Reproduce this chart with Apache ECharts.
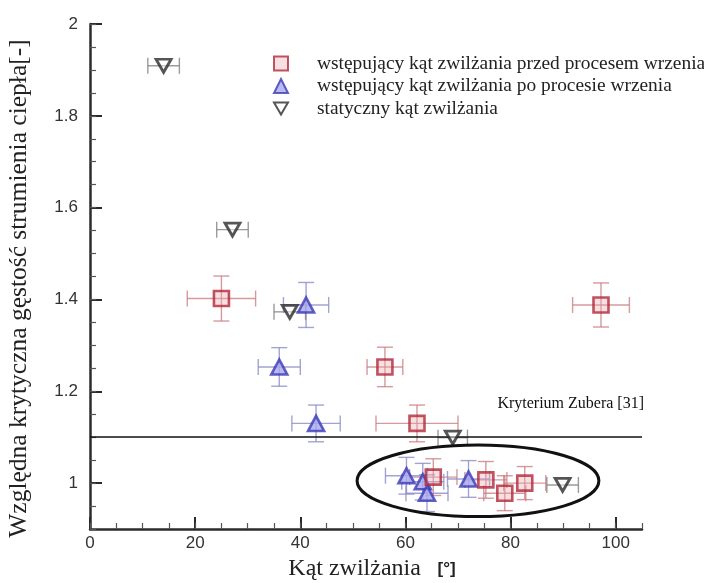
<!DOCTYPE html>
<html>
<head>
<meta charset="utf-8">
<script src="https://cdn.jsdelivr.net/npm/echarts@6/dist/echarts.min.js"></script>
<style>
  html, body { margin: 0; padding: 0; background: #fff; }
  #chart { width: 704px; height: 583px; }
</style>
</head>
<body>
<div id="chart"></div>
<script>
// Contact angle [deg] vs. relative critical heat flux [-], with x/y uncertainties
// each point: [angle, chf, angleErr, chfErr]
var advancingBefore = [
  [25.0, 1.402, 6.5, 0.049],
  [56.1, 1.253, 3.4, 0.043],
  [62.2, 1.130, 7.8, 0.040],
  [97.2, 1.388, 5.4, 0.048],
  [65.3, 1.013, 4.5, 0.040],
  [75.3, 1.007, 4.0, 0.040],
  [78.9, 0.978, 4.0, 0.038],
  [82.7, 1.000, 4.0, 0.036]
];
var advancingAfter = [
  [41.1, 1.388, 4.3, 0.049],
  [36.0, 1.253, 4.0, 0.042],
  [43.0, 1.130, 4.6, 0.040],
  [60.2, 1.016, 4.0, 0.040],
  [63.3, 1.003, 4.0, 0.040],
  [64.1, 0.978, 4.0, 0.040],
  [72.0, 1.009, 4.0, 0.040]
];
var staticAngle = [
  [14.0, 1.909, 3.0, 0],
  [27.1, 1.552, 3.0, 0],
  [38.0, 1.373, 3.0, 0],
  [69.0, 1.099, 2.8, 0],
  [89.9, 0.996, 3.0, 0]
];
var seriesNames = [
  'wstępujący kąt zwilżania przed procesem wrzenia',
  'wstępujący kąt zwilżania po procesie wrzenia',
  'statyczny kąt zwilżania'
];
var xTicks = [0, 20, 40, 60, 80, 100];
var yTicks = [1, 1.2, 1.4, 1.6, 1.8, 2];
var zuberLevel = 1.1;
var zuberLabel = 'Kryterium Zubera [31]';
var xTitle = 'Kąt zwilżania';
var xUnit = '[°]';
var yTitle = 'Względna krytyczna gęstość strumienia ciepła[-]';
// highlighted cluster near chf = 1: [centerAngle, centerChf, halfWidthAngle, halfHeightChf]
var clusterEllipse = [73.8, 1.005, 23.0, 0.078];

var invTriangle = 'path://M0,0 L10,0 L5,8.7 Z';
var serif = '"Liberation Serif", "DejaVu Serif", serif';
var sans = '"Liberation Sans", Arial, sans-serif';

function errorBarSeries(data, color) {
  return {
    type: 'custom',
    data: data,
    encode: { x: 0, y: 1 },
    z: 2,
    silent: true,
    renderItem: function (params, api) {
      var x = api.value(0), y = api.value(1), ex = api.value(2), ey = api.value(3);
      var c = api.coord([x, y]);
      var l = api.coord([x - ex, y]), r = api.coord([x + ex, y]);
      var t = api.coord([x, y + ey]), b = api.coord([x, y - ey]);
      var cap = 8;
      var style = { stroke: color, lineWidth: 1.4, fill: null };
      var children = [
        { type: 'line', shape: { x1: l[0], y1: c[1], x2: r[0], y2: c[1] }, style: style },
        { type: 'line', shape: { x1: l[0], y1: c[1] - cap, x2: l[0], y2: c[1] + cap }, style: style },
        { type: 'line', shape: { x1: r[0], y1: c[1] - cap, x2: r[0], y2: c[1] + cap }, style: style }
      ];
      if (ey > 0) {
        children.push(
          { type: 'line', shape: { x1: c[0], y1: t[1], x2: c[0], y2: b[1] }, style: style },
          { type: 'line', shape: { x1: c[0] - cap, y1: t[1], x2: c[0] + cap, y2: t[1] }, style: style },
          { type: 'line', shape: { x1: c[0] - cap, y1: b[1], x2: c[0] + cap, y2: b[1] }, style: style }
        );
      }
      return { type: 'group', children: children };
    }
  };
}

var chart = echarts.init(document.getElementById('chart'), null, { renderer: 'canvas' });

var axisLineStyle = { color: '#2b2b2b', width: 2.5 };

var option = {
  animation: false,
  backgroundColor: '#fff',
  grid: { left: 90, right: 62, top: 24, bottom: 54, containLabel: false, outerBoundsMode: 'none' },
  legend: {
    orient: 'vertical',
    left: 268,
    top: 49,
    padding: 5,
    itemWidth: 14,
    itemHeight: 14,
    itemGap: 3.5,
    textStyle: { fontFamily: serif, fontSize: 19.4, color: '#222', padding: [0, 0, 0, 24] },
    data: [
      { name: seriesNames[0], icon: 'rect' },
      { name: seriesNames[1], icon: 'triangle' },
      { name: seriesNames[2], icon: invTriangle }
    ]
  },
  xAxis: [
    {
      type: 'value', min: 0, max: 105, interval: 20, position: 'bottom',
      axisLine: { lineStyle: axisLineStyle },
      axisTick: { inside: true, length: 12, lineStyle: { color: '#2b2b2b', width: 2 }, customValues: xTicks },
      axisLabel: { customValues: xTicks, color: '#333', fontFamily: sans, fontSize: 17, margin: 6 },
      splitLine: { show: false },
      name: '{t|' + xTitle + '}     {u|' + xUnit + '}',
      nameLocation: 'middle',
      nameGap: 26,
      nameTextStyle: {
        padding: [0, 0, 0, 12],
        rich: {
          t: { fontFamily: serif, fontSize: 24, color: '#222' },
          u: { fontFamily: sans, fontSize: 17, fontWeight: 'bold', color: '#222' }
        }
      }
    },
    {
      type: 'value', min: 0, max: 105, interval: 5, position: 'bottom',
      axisLine: { show: false },
      axisTick: { inside: true, length: 6, lineStyle: { color: '#555', width: 1.2 } },
      axisLabel: { show: false },
      splitLine: { show: false }
    }
  ],
  yAxis: [
    {
      type: 'value', min: 0.9, max: 2, interval: 0.1, position: 'left',
      axisLine: { lineStyle: axisLineStyle },
      axisTick: { inside: true, length: 12, lineStyle: { color: '#2b2b2b', width: 2 }, customValues: yTicks },
      axisLabel: {
        customValues: yTicks, color: '#333', fontFamily: sans, fontSize: 17, margin: 12,
        formatter: function (v) { return String(+v.toFixed(1)); }
      },
      splitLine: { show: false },
      name: yTitle,
      nameLocation: 'middle',
      nameGap: 58,
      nameTextStyle: { fontFamily: serif, fontSize: 25.5, color: '#222', padding: [0, 24, 0, 0] }
    },
    {
      type: 'value', min: 0.9, max: 2, interval: 0.05, position: 'left',
      axisLine: { show: false },
      axisTick: { inside: true, length: 6, lineStyle: { color: '#555', width: 1.2 } },
      axisLabel: { show: false },
      splitLine: { show: false }
    }
  ],
  series: [
    errorBarSeries(advancingBefore, 'rgba(200,120,125,0.75)'),
    errorBarSeries(advancingAfter, 'rgba(140,140,200,0.8)'),
    errorBarSeries(staticAngle, 'rgba(130,130,130,0.8)'),
    {
      name: seriesNames[0],
      type: 'scatter',
      data: advancingBefore.map(function (d) { return [d[0], d[1]]; }),
      symbol: 'rect',
      symbolSize: 15,
      z: 5,
      itemStyle: { color: 'rgba(235,170,175,0.45)', borderColor: '#b3283a', borderWidth: 2.6 },
      markLine: {
        silent: true,
        symbol: ['none', 'none'],
        label: { show: false },
        lineStyle: { color: '#111', width: 1.5, type: 'solid' },
        data: [{ yAxis: zuberLevel }]
      }
    },
    {
      name: seriesNames[1],
      type: 'scatter',
      data: advancingAfter.map(function (d) { return [d[0], d[1]]; }),
      symbol: 'triangle',
      symbolSize: [16, 15],
      z: 4,
      itemStyle: { color: '#a9a9ee', borderColor: '#3a3ab8', borderWidth: 2.6 }
    },
    {
      name: seriesNames[2],
      type: 'scatter',
      data: staticAngle.map(function (d) { return [d[0], d[1]]; }),
      symbol: invTriangle,
      symbolSize: [15, 13],
      z: 6,
      itemStyle: { color: 'rgba(255,255,255,0.6)', borderColor: '#2a2a2a', borderWidth: 2.8 }
    }
  ]
};

chart.setOption(option);

// Annotations placed in data coordinates: criterion label and cluster outline
function placeAnnotations() {
  var lab = chart.convertToPixel({ xAxisIndex: 0, yAxisIndex: 0 }, [105, zuberLevel]);
  var c = chart.convertToPixel({ xAxisIndex: 0, yAxisIndex: 0 }, [clusterEllipse[0], clusterEllipse[1]]);
  var e = chart.convertToPixel({ xAxisIndex: 0, yAxisIndex: 0 },
    [clusterEllipse[0] + clusterEllipse[2], clusterEllipse[1] + clusterEllipse[3]]);
  chart.setOption({
    graphic: [
      {
        type: 'text',
        right: 704 - lab[0] - 2,
        top: lab[1] - 41,
        z: 10,
        style: { text: zuberLabel, fontFamily: serif, fontSize: 16, fill: '#111' }
      },
      {
        type: 'ellipse',
        z: 10,
        silent: true,
        shape: { cx: c[0], cy: c[1], rx: e[0] - c[0], ry: c[1] - e[1] },
        style: { fill: null, stroke: '#111', lineWidth: 3 }
      }
    ]
  });
}
placeAnnotations();
</script>
</body>
</html>
